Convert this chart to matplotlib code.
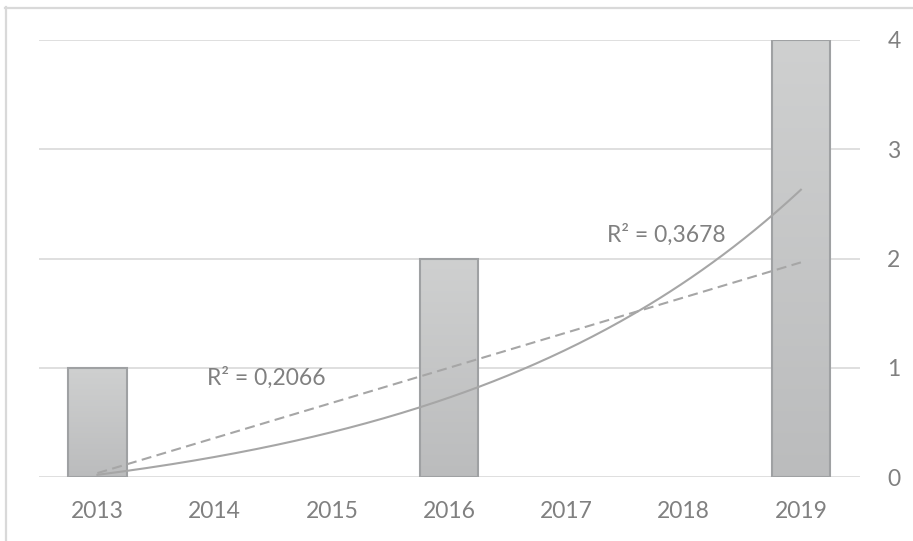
import numpy as np
import matplotlib
matplotlib.use('Agg')
import matplotlib.pyplot as plt
from matplotlib.lines import Line2D

# Data
YEARS = ['2013', '2014', '2015', '2016', '2017', '2018', '2019']
COUNTS = [1, 0, 0, 2, 0, 0, 4]
Y_TICKS = [0, 1, 2, 3, 4]

# second trendline (curved), coefficients: y = a*(exp(b*t) - 1) + c
CURVE_A, CURVE_B, CURVE_C = 0.418, 0.33, 0.02
R2_LINEAR = 'R² = 0,2066'
R2_CURVE = 'R² = 0,3678'

TEXT_GREY = '#808080'
GRID_GREY = '#d9d9d9'
TREND_GREY = '#a6a6a6'

plt.rcParams['font.family'] = ['Lato', 'DejaVu Sans']

fig = plt.figure(figsize=(9.13, 5.41), dpi=100)
ax = fig.add_axes([38.8 / 913, 1 - 477 / 541, (859.5 - 38.8) / 913, (477 - 40) / 541])

x = np.arange(len(YEARS))

# horizontal gridlines
for v in Y_TICKS:
    ax.axhline(v, color=GRID_GREY, lw=1.2, zorder=1)

# bars with a soft vertical gradient (empty years get no outline)
widths = [1.5 if c > 0 else 0 for c in COUNTS]
bars = ax.bar(x, COUNTS, width=0.5, facecolor='none', edgecolor='#9fa1a3',
              linewidth=widths, zorder=3)
grad = np.linspace(0, 1, 256).reshape(-1, 1)
cmap = matplotlib.colors.LinearSegmentedColormap.from_list('bar', ['#bbbcbd', '#cfd0d0'])
for b in bars:
    h = b.get_height()
    if h <= 0:
        continue
    x0 = b.get_x()
    im = ax.imshow(grad, cmap=cmap, origin='lower', aspect='auto',
                   extent=(x0, x0 + b.get_width(), 0, h), zorder=2)
    im.set_clip_path(b)
ax.set_xlim(-0.5, len(YEARS) - 0.5)
ax.set_ylim(0, 4)

# trendlines
t = np.linspace(0, len(YEARS) - 1, 200)
slope, icpt = np.polyfit(x, COUNTS, 1)
ax.plot(t, slope * t + icpt, color=TREND_GREY, lw=1.5, dashes=(4.8, 2.6), zorder=4)
ax.plot(t, CURVE_A * (np.exp(CURVE_B * t) - 1) + CURVE_C, color=TREND_GREY, lw=1.5, zorder=4)

ax.text(1.44, 0.91, R2_LINEAR, color=TEXT_GREY, fontsize=16.5, ha='center', va='center', zorder=5)
ax.text(4.855, 2.22, R2_CURVE, color=TEXT_GREY, fontsize=16.5, ha='center', va='center', zorder=5)

# axes styling
for s in ax.spines.values():
    s.set_visible(False)
ax.set_xticks(x)
ax.set_xticklabels(YEARS)
ax.set_yticks(Y_TICKS)
ax.yaxis.tick_right()
ax.tick_params(axis='x', length=0, pad=17, labelsize=16.5, labelcolor=TEXT_GREY)
ax.tick_params(axis='y', length=0, pad=20, labelsize=16.5, labelcolor=TEXT_GREY)

# outer chart frame (only left and top edges visible in the crop)
fig.add_artist(Line2D([6 / 913, 6 / 913], [0, 1 - 7 / 541], transform=fig.transFigure,
                      color=GRID_GREY, lw=1.6))
fig.add_artist(Line2D([5 / 913, 1], [1 - 7.5 / 541, 1 - 7.5 / 541], transform=fig.transFigure,
                      color=GRID_GREY, lw=1.6))

fig.savefig('out.png', dpi=100)
